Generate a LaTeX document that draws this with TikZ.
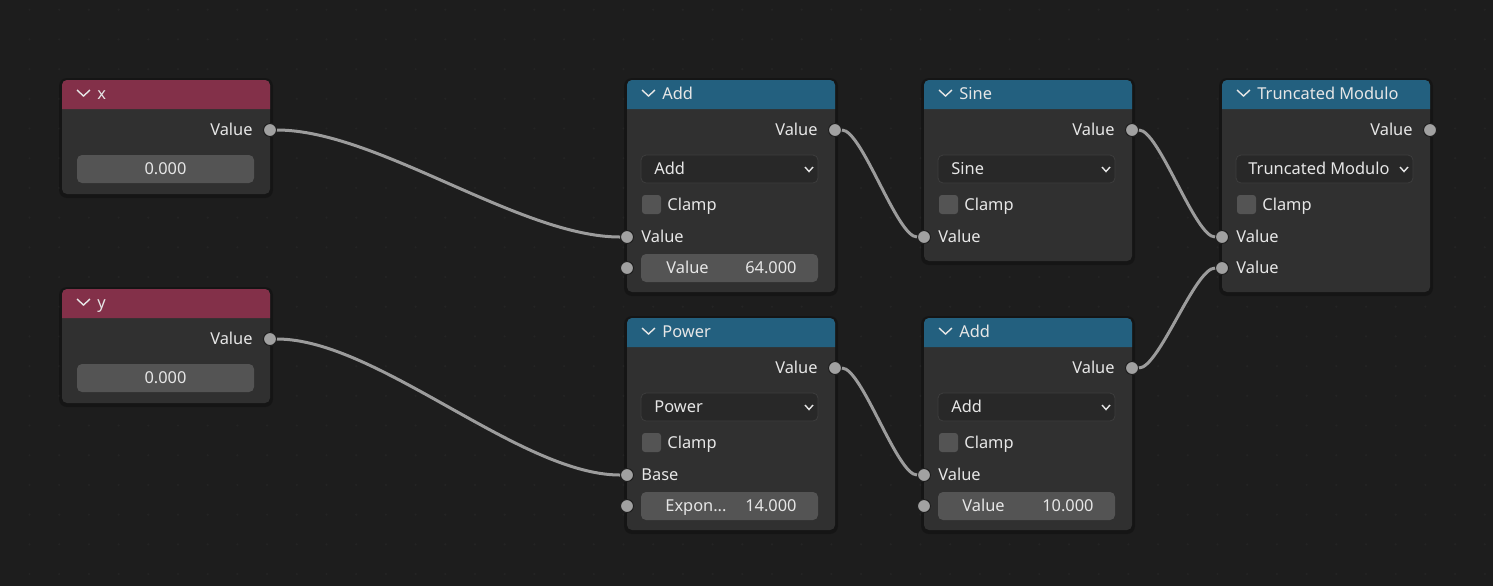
\documentclass[tikz,border=0pt]{standalone}
\usepackage{fontspec}
\setmainfont{Noto Sans}
\usetikzlibrary{positioning}

\definecolor{bgcol}{HTML}{1D1D1D}
\definecolor{dotcol}{HTML}{242424}
\definecolor{bodycol}{HTML}{303030}
\definecolor{inputhead}{HTML}{833049}
\definecolor{mathhead}{HTML}{23607F}
\definecolor{fieldcol}{HTML}{545454}
\definecolor{menucol}{HTML}{282828}
\definecolor{menuedge}{HTML}{3D3D3D}
\definecolor{sockcol}{HTML}{A1A1A1}
\definecolor{linkcol}{HTML}{9C9C9C}
\definecolor{txtcol}{HTML}{E6E6E6}

\begin{document}
\begin{tikzpicture}[x=0.5pt, y=-0.5pt,
  body/.style={fill=bodycol, rounded corners=2.5pt},
  shade/.style={fill=black, opacity=0.25, rounded corners=4pt},
  chev/.style={draw=txtcol, line width=0.7pt},
  title/.style={anchor=west, inner sep=0pt, text height=5.9pt, text depth=0pt, text=txtcol, font=\fontsize{8.2}{10}\selectfont},
  lbl/.style={inner sep=0pt, text height=5.9pt, text depth=0pt, text=txtcol, font=\fontsize{8.2}{10}\selectfont},
  field/.style={fill=fieldcol, rounded corners=2.5pt},
  menu/.style={fill=menucol, draw=menuedge, line width=0.4pt, rounded corners=2.5pt},
  tick/.style={fill=fieldcol, rounded corners=1.5pt},
  sock/.style={circle, fill=sockcol, draw=bgcol, line width=0.5pt, minimum size=6.5pt, inner sep=0pt},
  link/.style={draw=linkcol, line width=1.5pt}]

% Background and dot grid
\fill[bgcol] (0,0) rectangle (1493,586);
\useasboundingbox (0,0) rectangle (1493,586);
\foreach \i in {0,...,50}
  \foreach \j in {0,...,19}
    \fill[dotcol] (29.5+29.7*\i, 9.7+29.7*\j) circle (0.6pt);

% Input x
\begin{scope}[shift={(62,80)}]
  \fill[shade] (-3,-2) rectangle (211,118);
  \fill[body] (0,0) rectangle (208,114);
  \fill[inputhead] (0,29) {[rounded corners=2.5pt] -- (0,0) -- (208,0)} -- (208,29) -- cycle;
  \draw[chev] (15,10) -- (21.5,16) -- (28,10);
  \node[title] (xtitle) at (35,14) {x};
  \node[lbl, anchor=east] (xlbl) at (191,50) {Value};
  \node[sock] (xout) at (208,50) {};
  \fill[field] (15,75) rectangle (192,103);
  \node[lbl] (xval) at (103.5,89) {0.000};
\end{scope}

% Input y
\begin{scope}[shift={(62,289)}]
  \fill[shade] (-3,-2) rectangle (211,118);
  \fill[body] (0,0) rectangle (208,114);
  \fill[inputhead] (0,29) {[rounded corners=2.5pt] -- (0,0) -- (208,0)} -- (208,29) -- cycle;
  \draw[chev] (15,10) -- (21.5,16) -- (28,10);
  \node[title] (ytitle) at (35,14) {y};
  \node[lbl, anchor=east] (ylbl) at (191,50) {Value};
  \node[sock] (yout) at (208,50) {};
  \fill[field] (15,75) rectangle (192,103);
  \node[lbl] (yval) at (103.5,89) {0.000};
\end{scope}

% Add (top)
\begin{scope}[shift={(627,80)}]
  \fill[shade] (-3,-2) rectangle (211,216);
  \fill[body] (0,0) rectangle (208,212);
  \fill[mathhead] (0,29) {[rounded corners=2.5pt] -- (0,0) -- (208,0)} -- (208,29) -- cycle;
  \draw[chev] (15,10) -- (21.5,16) -- (28,10);
  \node[title] (addtitle) at (35,14) {Add};
  \node[lbl, anchor=east] (addlbl) at (191,50) {Value};
  \node[sock] (addout) at (208,50) {};
  \draw[menu] (14,75) rectangle (191,103);
  \node[lbl, anchor=west] (addop) at (27,89) {Add};
  \draw[chev] (178,87) -- (182,91.5) -- (186,87);
  \fill[tick] (15,115) rectangle (34,134);
  \node[lbl, anchor=west] (addclamp) at (40,125) {Clamp};
  \node[lbl, anchor=west] (addinlbl) at (14,157) {Value};
  \node[sock] (addin) at (0,157) {};
  \fill[field] (14,174) rectangle (191,202);
  \node[lbl, anchor=west] (addfldlbl) at (39,188) {Value};
  \node[lbl, anchor=east] (addfldval) at (170,188) {64.000};
  \node[sock] (addfld) at (0,188) {};
\end{scope}

% Sine
\begin{scope}[shift={(924,80)}]
  \fill[shade] (-3,-2) rectangle (211,185);
  \fill[body] (0,0) rectangle (208,181);
  \fill[mathhead] (0,29) {[rounded corners=2.5pt] -- (0,0) -- (208,0)} -- (208,29) -- cycle;
  \draw[chev] (15,10) -- (21.5,16) -- (28,10);
  \node[title] (sinetitle) at (35,14) {Sine};
  \node[lbl, anchor=east] (sinelbl) at (191,50) {Value};
  \node[sock] (sineout) at (208,50) {};
  \draw[menu] (14,75) rectangle (191,103);
  \node[lbl, anchor=west] (sineop) at (27,89) {Sine};
  \draw[chev] (178,87) -- (182,91.5) -- (186,87);
  \fill[tick] (15,115) rectangle (34,134);
  \node[lbl, anchor=west] (sineclamp) at (40,125) {Clamp};
  \node[lbl, anchor=west] (sineinlbl) at (14,157) {Value};
  \node[sock] (sinein) at (0,157) {};
\end{scope}

% Truncated Modulo
\begin{scope}[shift={(1222,80)}]
  \fill[shade] (-3,-2) rectangle (211,216);
  \fill[body] (0,0) rectangle (208,212);
  \fill[mathhead] (0,29) {[rounded corners=2.5pt] -- (0,0) -- (208,0)} -- (208,29) -- cycle;
  \draw[chev] (15,10) -- (21.5,16) -- (28,10);
  \node[title] (modtitle) at (35,14) {Truncated Modulo};
  \node[lbl, anchor=east] (modlbl) at (191,50) {Value};
  \node[sock] (modout) at (208,50) {};
  \draw[menu] (14,75) rectangle (191,103);
  \node[lbl, anchor=west] (modop) at (26,89) {Truncated Modulo};
  \draw[chev] (178,87) -- (182,91.5) -- (186,87);
  \fill[tick] (15,115) rectangle (34,134);
  \node[lbl, anchor=west] (modclamp) at (40,125) {Clamp};
  \node[lbl, anchor=west] (modinalbl) at (14,157) {Value};
  \node[sock] (modina) at (0,157) {};
  \node[lbl, anchor=west] (modinblbl) at (14,188) {Value};
  \node[sock] (modinb) at (0,188) {};
\end{scope}

% Power
\begin{scope}[shift={(627,318)}]
  \fill[shade] (-3,-2) rectangle (211,216);
  \fill[body] (0,0) rectangle (208,212);
  \fill[mathhead] (0,29) {[rounded corners=2.5pt] -- (0,0) -- (208,0)} -- (208,29) -- cycle;
  \draw[chev] (15,10) -- (21.5,16) -- (28,10);
  \node[title] (powtitle) at (35,14) {Power};
  \node[lbl, anchor=east] (powlbl) at (191,50) {Value};
  \node[sock] (powout) at (208,50) {};
  \draw[menu] (14,75) rectangle (191,103);
  \node[lbl, anchor=west] (powop) at (27,89) {Power};
  \draw[chev] (178,87) -- (182,91.5) -- (186,87);
  \fill[tick] (15,115) rectangle (34,134);
  \node[lbl, anchor=west] (powclamp) at (40,125) {Clamp};
  \node[lbl, anchor=west] (powinlbl) at (14,157) {Base};
  \node[sock] (powin) at (0,157) {};
  \fill[field] (14,174) rectangle (191,202);
  \node[lbl, anchor=west] (powfldlbl) at (38,188) {Expon...};
  \node[lbl, anchor=east] (powfldval) at (170,188) {14.000};
  \node[sock] (powfld) at (0,188) {};
\end{scope}

% Add (bottom)
\begin{scope}[shift={(924,318)}]
  \fill[shade] (-3,-2) rectangle (211,216);
  \fill[body] (0,0) rectangle (208,212);
  \fill[mathhead] (0,29) {[rounded corners=2.5pt] -- (0,0) -- (208,0)} -- (208,29) -- cycle;
  \draw[chev] (15,10) -- (21.5,16) -- (28,10);
  \node[title] (addbtitle) at (35,14) {Add};
  \node[lbl, anchor=east] (addblbl) at (191,50) {Value};
  \node[sock] (addbout) at (208,50) {};
  \draw[menu] (14,75) rectangle (191,103);
  \node[lbl, anchor=west] (addbop) at (27,89) {Add};
  \draw[chev] (178,87) -- (182,91.5) -- (186,87);
  \fill[tick] (15,115) rectangle (34,134);
  \node[lbl, anchor=west] (addbclamp) at (40,125) {Clamp};
  \node[lbl, anchor=west] (addbinlbl) at (14,157) {Value};
  \node[sock] (addbin) at (0,157) {};
  \fill[field] (14,174) rectangle (191,202);
  \node[lbl, anchor=west] (addbfldlbl) at (38,188) {Value};
  \node[lbl, anchor=east] (addbfldval) at (170,188) {10.000};
  \node[sock] (addbfld) at (0,188) {};
\end{scope}

% Links
\draw[link] (xout) .. controls +(107,0) and +(-107,0) .. (addin);
\draw[link] (yout) .. controls +(107,0) and +(-107,0) .. (powin);
\draw[link] (addout) .. controls +(27,0) and +(-27,0) .. (sinein);
\draw[link] (powout) .. controls +(27,0) and +(-27,0) .. (addbin);
\draw[link] (sineout) .. controls +(27,0) and +(-27,0) .. (modina);
\draw[link] (addbout) .. controls +(27,0) and +(-27,0) .. (modinb);

\end{tikzpicture}
\end{document}
